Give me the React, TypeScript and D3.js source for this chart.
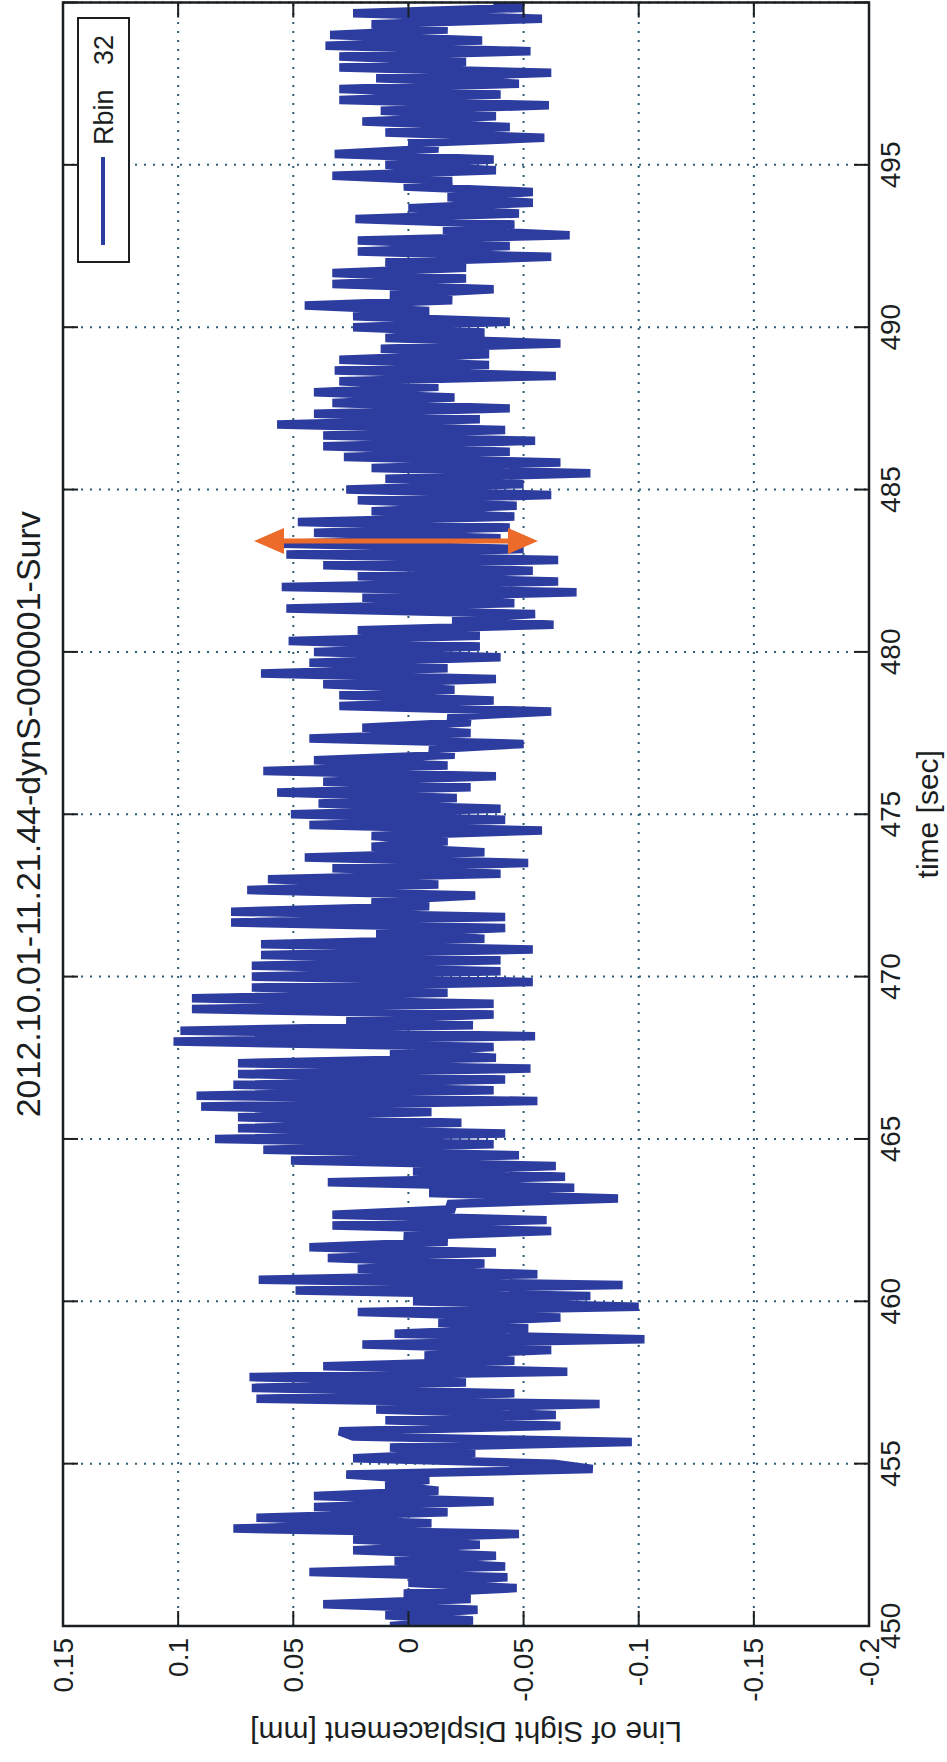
import React from "react";
import * as d3 from "d3";

// chart is a MATLAB figure turned 90 degrees counter-clockwise on the page
const titleText = "2012.10.01-11.21.44-dynS-000001-Surv";
const xLabel = "time [sec]";
const yLabel = "Line of Sight Displacement [mm]";
const legendName = "Rbin";
const legendBin = "32";

const timeTicks = [450, 455, 460, 465, 470, 475, 480, 485, 490, 495, 500];
const timeTickLabels = ["450", "455", "460", "465", "470", "475", "480", "485", "490", "495", ""];
const dispTicks = [0.15, 0.1, 0.05, 0, -0.05, -0.1, -0.15, -0.2];
const dispTickLabels = ["0.15", "0.1", "0.05", "0", "-0.05", "-0.1", "-0.15", "-0.2"];

// one row per second, 6 samples per second, values in mm
const startSecond = 450;
const samplesPerSecond = 6;
const displacement = [
  [0.008, -0.028, 0.010, -0.030, 0.037, -0.027], // 450
  [0.002, -0.047, 0.000, -0.043, 0.043, -0.042],
  [0.006, -0.038, 0.024, -0.031, 0.024, -0.048],
  [0.076, -0.010, 0.066, -0.017, 0.041, -0.037],
  [0.041, -0.013, 0.010, -0.009, 0.027, -0.080],
  [-0.063, 0.024, -0.029, 0.008, -0.097, 0.024], // 455
  [0.030, -0.066, 0.010, -0.064, 0.014, -0.083],
  [0.066, -0.046, 0.068, -0.025, 0.069, -0.069],
  [0.037, -0.046, -0.007, -0.062, 0.020, -0.1025],
  [0.006, -0.052, -0.013, -0.066, 0.022, -0.100],
  [-0.002, -0.079, 0.049, -0.093, 0.065, -0.056], // 460
  [0.022, -0.033, 0.035, -0.038, 0.043, -0.017],
  [0.002, -0.062, 0.033, -0.060, 0.033, -0.020],
  [-0.017, -0.091, -0.009, -0.072, 0.035, -0.068],
  [-0.002, -0.064, 0.051, -0.048, 0.063, -0.037],
  [0.084, -0.042, 0.074, -0.023, 0.074, -0.010], // 465
  [0.090, -0.056, 0.092, -0.037, 0.076, -0.042],
  [0.074, -0.053, 0.074, -0.038, 0.008, -0.037],
  [0.102, -0.055, 0.099, -0.028, 0.027, -0.037],
  [0.094, -0.037, 0.094, -0.017, 0.068, -0.054],
  [0.068, -0.040, 0.068, -0.040, 0.064, -0.054], // 470
  [0.064, -0.033, 0.014, -0.042, 0.077, -0.042],
  [0.077, -0.009, 0.016, -0.029, 0.070, -0.013],
  [0.061, -0.040, 0.033, -0.052, 0.045, -0.033],
  [0.016, -0.017, 0.016, -0.058, 0.043, -0.042],
  [0.051, -0.040, 0.039, -0.021, 0.057, -0.027], // 475
  [0.037, -0.038, 0.063, -0.017, 0.041, -0.020],
  [-0.009, -0.050, 0.043, -0.027, 0.020, -0.027],
  [-0.017, -0.062, 0.030, -0.037, 0.030, -0.020],
  [0.037, -0.038, 0.064, -0.017, 0.043, -0.040],
  [0.041, -0.031, 0.052, -0.031, 0.022, -0.063], // 480
  [-0.019, -0.055, 0.053, -0.046, 0.020, -0.073],
  [0.055, -0.065, 0.022, -0.054, 0.037, -0.065],
  [0.053, -0.050, 0.055, -0.040, 0.041, -0.044],
  [0.048, -0.046, 0.016, -0.047, 0.022, -0.062],
  [0.027, -0.050, 0.010, -0.079, 0.016, -0.066], // 485
  [0.028, -0.044, 0.037, -0.055, 0.037, -0.042],
  [0.057, -0.031, 0.041, -0.044, 0.033, -0.020],
  [0.041, -0.013, 0.030, -0.064, 0.032, -0.035],
  [0.030, -0.035, 0.012, -0.066, 0.010, -0.033],
  [0.024, -0.044, 0.024, -0.009, 0.045, -0.019], // 490
  [0.008, -0.037, 0.033, -0.025, 0.033, -0.025],
  [0.010, -0.062, 0.022, -0.044, 0.022, -0.070],
  [-0.015, -0.046, 0.023, -0.048, 0.000, -0.054],
  [-0.017, -0.054, 0.002, -0.019, 0.033, -0.038],
  [0.010, -0.037, 0.032, -0.013, 0.000, -0.059], // 495
  [0.010, -0.044, 0.020, -0.038, 0.012, -0.061],
  [0.030, -0.040, 0.030, -0.048, 0.014, -0.062],
  [0.030, -0.025, 0.030, -0.053, 0.036, -0.032],
  [0.034, -0.017, 0.016, -0.058, 0.024, -0.050],
  [-0.037], // 500
];

const W = 947;
const H = 1762;
const FONT = "'Liberation Sans', Arial, Helvetica, sans-serif";
const BLUE = "#2c3c9f";
const GRID = "#2f5d78";
const INK = "#1b1f22";

export default function App() {
  // unrotated figure: width H, height W
  const x = d3.scaleLinear().domain([450, 500]).range([136, 1759.5]);
  const y = d3.scaleLinear().domain([-0.2, 0.15]).range([869, 63]);
  const [x0, x1] = x.range();
  const [y1, y0] = y.range();
  const tickLen = 15;

  const points: [number, number][] = [];
  displacement.forEach((row, r) =>
    row.forEach((v, j) => points.push([startSecond + r + j / samplesPerSecond, v]))
  );
  const line = d3.line<[number, number]>().x(d => x(d[0])).y(d => y(d[1]));

  const midX = (x0 + x1) / 2;
  const midY = (y0 + y1) / 2;

  // orange double arrow drawn on the page itself
  const arrowY = 541;
  const ax0 = 254, ax1 = 538, head = 30, half = 13;

  return (
    <div style={{ position: "absolute", left: 0, top: 0 }}>
      <svg width={W} height={H} style={{ display: "block", background: "#fff" }} fontFamily={FONT}>
        <defs>
          <clipPath id="plotArea">
            <rect x={x0} y={y0} width={x1 - x0} height={y1 - y0} />
          </clipPath>
        </defs>
        <g transform={`translate(0,${H}) rotate(-90)`}>
          {/* grid */}
          {timeTicks.map(t => (
            <line key={"gx" + t} x1={x(t)} x2={x(t)} y1={y0} y2={y1} stroke={GRID}
              strokeWidth={2} strokeDasharray="2,7" />
          ))}
          {dispTicks.map(v => (
            <line key={"gy" + v} x1={x0} x2={x1} y1={y(v)} y2={y(v)} stroke={GRID}
              strokeWidth={2} strokeDasharray="2,7" />
          ))}

          <path d={line(points) || ""} fill="none" stroke={BLUE} strokeWidth={8.5}
            strokeLinejoin="bevel" clipPath="url(#plotArea)" />

          {/* ticks */}
          {timeTicks.map(t => (
            <g key={"tx" + t} stroke={INK} strokeWidth={2}>
              <line x1={x(t)} x2={x(t)} y1={y1} y2={y1 - tickLen} />
              <line x1={x(t)} x2={x(t)} y1={y0} y2={y0 + tickLen} />
            </g>
          ))}
          {dispTicks.map(v => (
            <g key={"ty" + v} stroke={INK} strokeWidth={2}>
              <line x1={x0} x2={x0 + tickLen} y1={y(v)} y2={y(v)} />
              <line x1={x1} x2={x1 - tickLen} y1={y(v)} y2={y(v)} />
            </g>
          ))}
          <rect x={x0} y={y0} width={x1 - x0} height={y1 - y0} fill="none" stroke={INK} strokeWidth={2.5} />

          {/* tick labels */}
          {timeTicks.map((t, i) => (
            <text key={"lx" + t} x={x(t)} y={y1 + 31} textAnchor="middle" fontSize={28} fill={INK}>
              {timeTickLabels[i]}
            </text>
          ))}
          {dispTicks.map((v, i) => (
            <text key={"ly" + v} x={x0 - 12} y={y(v)} textAnchor="end" dominantBaseline="central"
              fontSize={28} fill={INK}>
              {dispTickLabels[i]}
            </text>
          ))}

          <text x={midX} y={938} textAnchor="middle" fontSize={30} fill={INK}>{xLabel}</text>
          <text transform={`translate(40,${midY}) rotate(-90)`} textAnchor="middle" fontSize={30} fill={INK}>
            {yLabel}
          </text>
          <text x={midX} y={40} textAnchor="middle" fontSize={34} fill={INK}>{titleText}</text>

          {/* legend */}
          <rect x={1500} y={78} width={244} height={51} fill="#fff" stroke={INK} strokeWidth={2} />
          <line x1={1517} x2={1605} y1={103} y2={103} stroke={BLUE} strokeWidth={4} />
          <text x={1617} y={113} fontSize={27} fill={INK}>{legendName}</text>
          <text x={1697} y={113} fontSize={27} fill={INK}>{legendBin}</text>
        </g>

        <g fill="#ec6a2a" stroke="none">
          <rect x={ax0 + head - 2} y={arrowY - 2.5} width={ax1 - ax0 - 2 * head + 4} height={5} />
          <path d={`M${ax0},${arrowY} L${ax0 + head},${arrowY - half} L${ax0 + head},${arrowY + half} Z`} />
          <path d={`M${ax1},${arrowY} L${ax1 - head},${arrowY - half} L${ax1 - head},${arrowY + half} Z`} />
        </g>
      </svg>
    </div>
  );
}
